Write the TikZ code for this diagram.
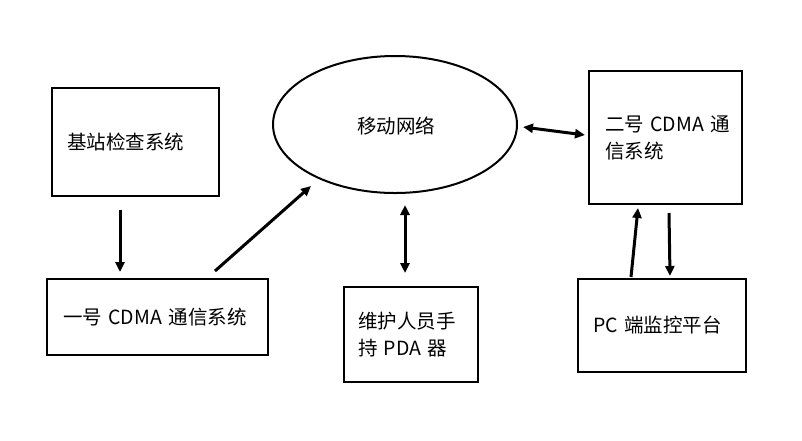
\documentclass[tikz,border=0pt]{standalone}
\usepackage{fontspec}
\setmainfont{Noto Sans CJK SC}
\usetikzlibrary{arrows.meta,shapes.geometric}

\tikzset{
  box/.style={draw, line width=2.3pt, rectangle, align=left, font=\fontsize{19.5}{27}\selectfont},
  cloud/.style={draw, line width=2pt, ellipse, inner sep=0pt},
  arr/.style={line width=3pt, -{Triangle[length=10pt,width=9pt]}},
  biarr/.style={line width=3pt, {Triangle[length=10pt,width=9pt]}-{Triangle[length=10pt,width=9pt]}}
}

\begin{document}
\begin{tikzpicture}[x=1pt,y=-1pt]
  \useasboundingbox (0,0) rectangle (802,440);

  % subsystems
  \node[box, minimum width=167pt, minimum height=108pt, inner xsep=15pt, text width=137pt]
    (check) at (135.5,142) {\mbox{基站检查系统}};
  \node[box, minimum width=221pt, minimum height=76pt, inner xsep=16pt, text width=189pt]
    (cdma1) at (157.5,317) {\mbox{一号 CDMA 通信系统}};
  \node[cloud, minimum width=244pt, minimum height=137pt]
    (net) at (395,124.5) {};
  \node[font=\fontsize{19.5}{23}\selectfont] (netlabel) at (396,126) {移动网络};
  \node[box, minimum width=134pt, minimum height=95pt, inner xsep=14pt, text width=106pt]
    (pda) at (411,334.5) {\mbox{维护人员手}\\\mbox{持 PDA 器}};
  \node[box, minimum width=153pt, minimum height=133pt, inner xsep=16pt, text width=121pt]
    (cdma2) at (665.5,137.5) {\mbox{二号 CDMA 通}\\\mbox{信系统}};
  \node[box, minimum width=168pt, minimum height=93pt, inner xsep=15pt, text width=138pt]
    (pc) at (662,325.5) {\mbox{PC 端监控平台}};

  % connector end points
  \coordinate (c1a) at (120,210);
  \coordinate (c1b) at (120,272);
  \coordinate (c2a) at (215,271);
  \coordinate (c2b) at (311,186);
  \coordinate (c3a) at (405,205);
  \coordinate (c3b) at (405,273);
  \coordinate (c4a) at (523,127);
  \coordinate (c4b) at (585,135);
  \coordinate (c5a) at (631,277);
  \coordinate (c5b) at (638,208);
  \coordinate (c6a) at (669,213);
  \coordinate (c6b) at (670,276);

  % data flow
  \draw[arr] (c1a) -- (c1b);
  \draw[arr] (c2a) -- (c2b);
  \draw[biarr] (c3a) -- (c3b);
  \draw[biarr] (c4a) -- (c4b);
  \draw[arr] (c5a) -- (c5b);
  \draw[arr] (c6a) -- (c6b);
\end{tikzpicture}
\end{document}
